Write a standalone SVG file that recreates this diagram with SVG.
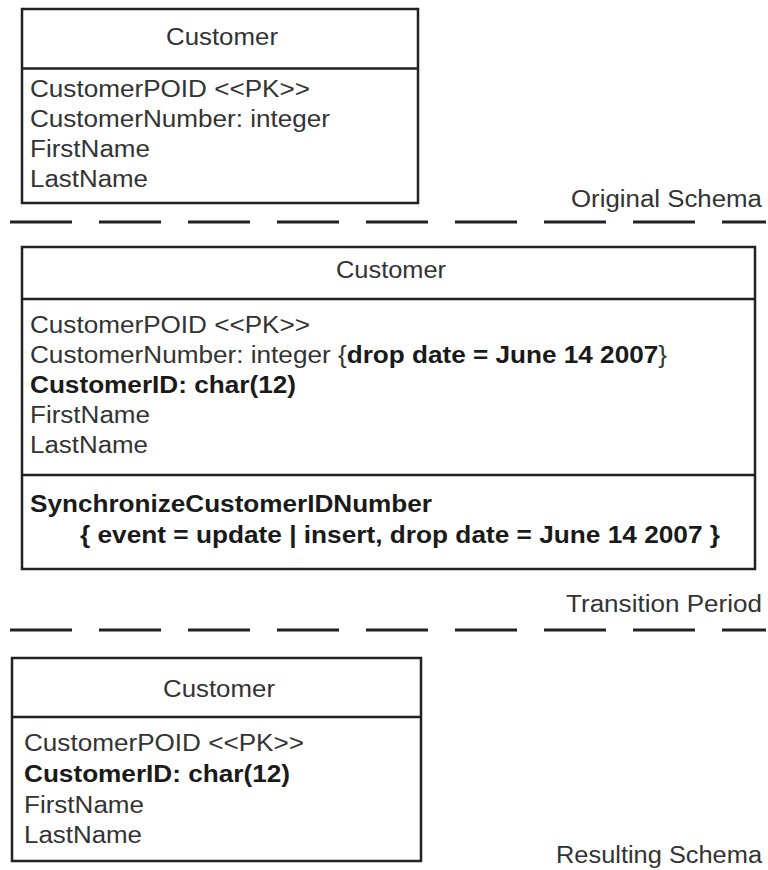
<svg xmlns="http://www.w3.org/2000/svg" width="768" height="870" viewBox="0 0 768 870">
<style>
  .box { fill: #fff; stroke: #222; stroke-width: 2.5; }
  .div { stroke: #222; stroke-width: 2.5; }
  .dash { stroke: #222; stroke-width: 3; stroke-dasharray: 62 27; fill: none; }
  text { font-family: "Liberation Sans", Arial, sans-serif; font-size: 23px; fill: #333; }
  .b { font-weight: bold; fill: #1a1a1a; }
  .c { text-anchor: middle; }
  .r { text-anchor: end; }
</style>
<rect width="768" height="870" fill="#fff"/>

<g id="original-schema">
  <rect class="box" x="22" y="9" width="396" height="194"/>
  <line class="div" x1="22" y1="68.5" x2="418" y2="68.5"/>
  <text class="c" x="222" y="45" textLength="112" lengthAdjust="spacingAndGlyphs">Customer</text>
  <text x="30" y="97" textLength="280" lengthAdjust="spacingAndGlyphs">CustomerPOID &lt;&lt;PK&gt;&gt;</text>
  <text x="30" y="127" textLength="300" lengthAdjust="spacingAndGlyphs">CustomerNumber: integer</text>
  <text x="30" y="157" textLength="120" lengthAdjust="spacingAndGlyphs">FirstName</text>
  <text x="30" y="187" textLength="118" lengthAdjust="spacingAndGlyphs">LastName</text>
</g>

<g id="transition-schema">
  <rect class="box" x="22" y="247" width="733" height="322"/>
  <line class="div" x1="22" y1="299" x2="755" y2="299"/>
  <line class="div" x1="22" y1="475" x2="755" y2="475"/>
  <text class="c" x="391" y="278" textLength="110" lengthAdjust="spacingAndGlyphs">Customer</text>
  <text x="30" y="333" textLength="280" lengthAdjust="spacingAndGlyphs">CustomerPOID &lt;&lt;PK&gt;&gt;</text>
  <text x="30" y="363" textLength="637" lengthAdjust="spacingAndGlyphs">CustomerNumber: integer {<tspan class="b">drop date = June 14 2007</tspan>}</text>
  <text class="b" x="30" y="393" textLength="266" lengthAdjust="spacingAndGlyphs">CustomerID: char(12)</text>
  <text x="30" y="423" textLength="120" lengthAdjust="spacingAndGlyphs">FirstName</text>
  <text x="30" y="453" textLength="118" lengthAdjust="spacingAndGlyphs">LastName</text>
  <text class="b" x="30" y="512" textLength="402" lengthAdjust="spacingAndGlyphs">SynchronizeCustomerIDNumber</text>
  <text class="b" x="80" y="543" textLength="640" lengthAdjust="spacingAndGlyphs">{ event = update | insert, drop date = June 14 2007 }</text>
</g>

<g id="resulting-schema">
  <rect class="box" x="12" y="658" width="409" height="203"/>
  <line class="div" x1="12" y1="717" x2="421" y2="717"/>
  <text class="c" x="219" y="697" textLength="112" lengthAdjust="spacingAndGlyphs">Customer</text>
  <text x="24" y="751" textLength="280" lengthAdjust="spacingAndGlyphs">CustomerPOID &lt;&lt;PK&gt;&gt;</text>
  <text class="b" x="24" y="782" textLength="266" lengthAdjust="spacingAndGlyphs">CustomerID: char(12)</text>
  <text x="24" y="813" textLength="120" lengthAdjust="spacingAndGlyphs">FirstName</text>
  <text x="24" y="843" textLength="118" lengthAdjust="spacingAndGlyphs">LastName</text>
</g>

<g id="separators">
  <line class="dash" x1="10" y1="222" x2="766" y2="222"/>
  <line class="dash" x1="10" y1="630" x2="766" y2="630"/>
  <text class="r" x="762" y="207" textLength="191" lengthAdjust="spacingAndGlyphs">Original Schema</text>
  <text class="r" x="762" y="612" textLength="196" lengthAdjust="spacingAndGlyphs">Transition Period</text>
  <text class="r" x="762" y="863" textLength="206" lengthAdjust="spacingAndGlyphs">Resulting Schema</text>
</g>
</svg>
